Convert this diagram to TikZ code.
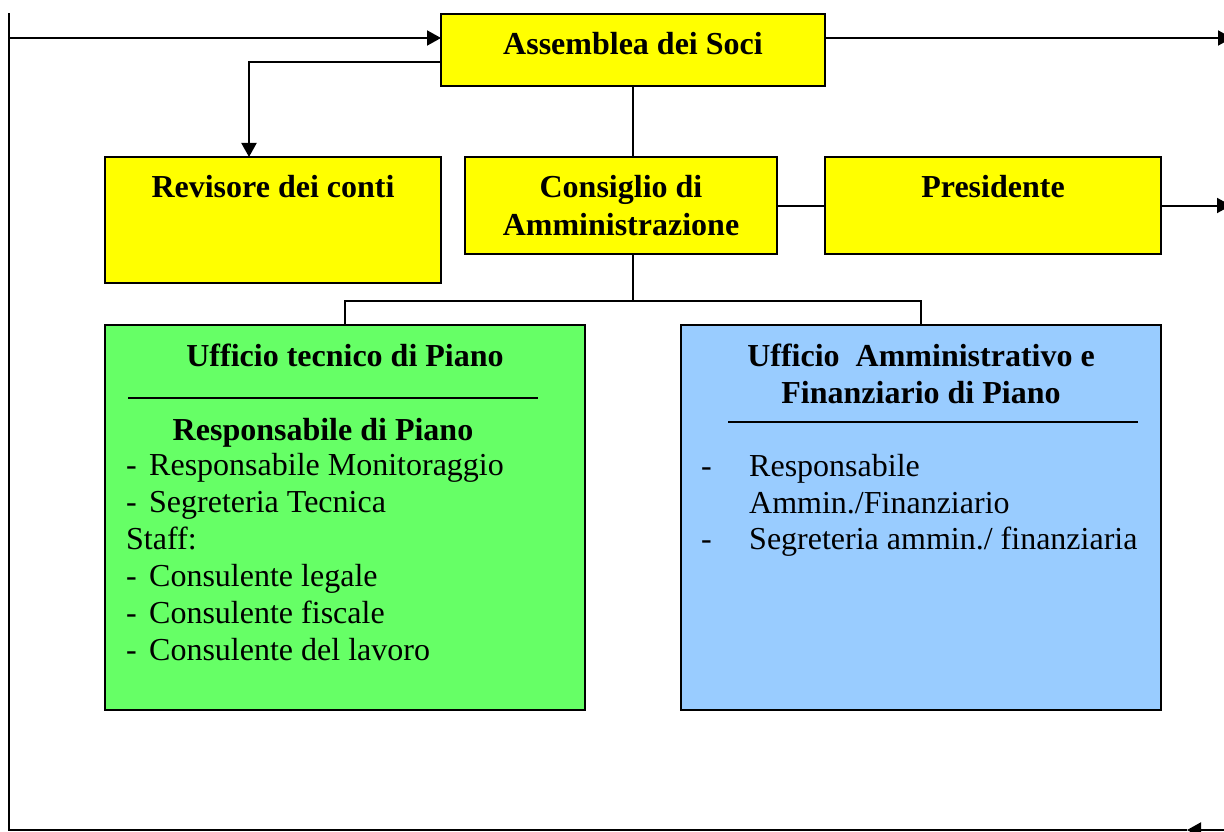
\documentclass[tikz,border=0pt]{standalone}
\usepackage{fontspec}
\setmainfont{Liberation Serif}
\usetikzlibrary{arrows.meta}
\definecolor{yel}{HTML}{FFFF00}
\definecolor{grn}{HTML}{66FF66}
\definecolor{blu}{HTML}{99CCFF}
\begin{document}
\begin{tikzpicture}[x=1pt,y=-1pt,
  box/.style={draw=black,line width=2.5pt,inner sep=0pt,outer sep=0pt},
  conn/.style={line width=2pt,draw=black},
  arr/.style={conn,-{Triangle[length=14pt,width=15pt]}},
  ttl/.style={anchor=base,inner sep=0pt,font=\fontsize{32}{36.8}\selectfont\bfseries},
  itm/.style={anchor=base west,inner sep=0pt,font=\fontsize{32}{36.8}\selectfont}]
\useasboundingbox (0,0) rectangle (1224,832);
\fill[white] (0,0) rectangle (1224,832);
% boxes
\node[box,fill=yel,minimum width=384pt,minimum height=72pt] (asm) at (633,50) {};
\node[box,fill=yel,minimum width=336pt,minimum height=126pt] (rev) at (273,220) {};
\node[box,fill=yel,minimum width=312pt,minimum height=97pt] (cons) at (621,205.5) {};
\node[box,fill=yel,minimum width=336pt,minimum height=97pt] (pres) at (993,205.5) {};
\node[box,fill=grn,minimum width=480pt,minimum height=385pt] (green) at (345,517.5) {};
\node[box,fill=blu,minimum width=480pt,minimum height=385pt] (blue) at (921,517.5) {};
% coordinates
\coordinate (tl) at (9,13);
\coordinate (tl2) at (9,38);
\coordinate (bl) at (9,830);
\coordinate (bh) at (1187,830);
\coordinate (brr) at (1232,830);
\coordinate (tr) at (1232,38);
\coordinate (pr) at (1231,205.5);
\coordinate (rv) at (249,157);
\coordinate (j) at (633,301);
% connectors
\draw[conn] (bh) -- (bl) -- (tl);
\draw[arr] (brr) -- (bh);
\draw[arr] (tl2) -- (asm.west |- tl2);
\draw[arr] (asm.east |- tr) -- (tr);
\draw[arr] ([yshift=-12pt]asm.west) -| (rv);
\draw[conn] (asm.south) -- (asm.south |- cons.north);
\draw[conn] (cons.east) -- (pres.west);
\draw[arr] (pres.east) -- (pr);
\draw[conn] (asm.south |- cons.south) -- (j);
\draw[conn] (green.north) |- (j) -| (blue.north);
% texts
\node[ttl] (tasm) at (633,55) {Assemblea dei Soci};
\node[ttl] (trev) at (273,197) {Revisore dei conti};
\node[ttl] (tcons1) at (621,197) {Consiglio di};
\node[ttl] (tcons2) at (621,235) {Amministrazione};
\node[ttl] (tpres) at (993,197) {Presidente};
% green box
\node[ttl] (g1) at (345,366) {Ufficio tecnico di Piano};
\draw[line width=2pt] (128,398) -- (538,398);
\node[ttl] (g2) at (323,440) {Responsabile di Piano};
\node[itm] (gd1) at (126,475) {-};
\node[itm] (gi1) at (149,475) {Responsabile Monitoraggio};
\node[itm] (gd2) at (126,512) {-};
\node[itm] (gi2) at (149,512) {Segreteria Tecnica};
\node[itm] (gs) at (126,549) {Staff:};
\node[itm] (gd3) at (126,586) {-};
\node[itm] (gi3) at (149,586) {Consulente legale};
\node[itm] (gd4) at (126,623) {-};
\node[itm] (gi4) at (149,623) {Consulente fiscale};
\node[itm] (gd5) at (126,660) {-};
\node[itm] (gi5) at (149,660) {Consulente del lavoro};
% blue box
\node[ttl] (b1) at (921,366) {Ufficio\ \ Amministrativo e};
\node[ttl] (b2) at (921,403) {Finanziario di Piano};
\draw[line width=2pt] (728,422) -- (1138,422);
\node[itm] (bd1) at (701,476) {-};
\node[itm] (bi1) at (749,476) {Responsabile};
\node[itm] (bi1b) at (749,513) {Ammin./Finanziario};
\node[itm] (bd2) at (701,549) {-};
\node[itm] (bi2) at (749,549) {Segreteria ammin./ finanziaria};
\end{tikzpicture}
\end{document}
